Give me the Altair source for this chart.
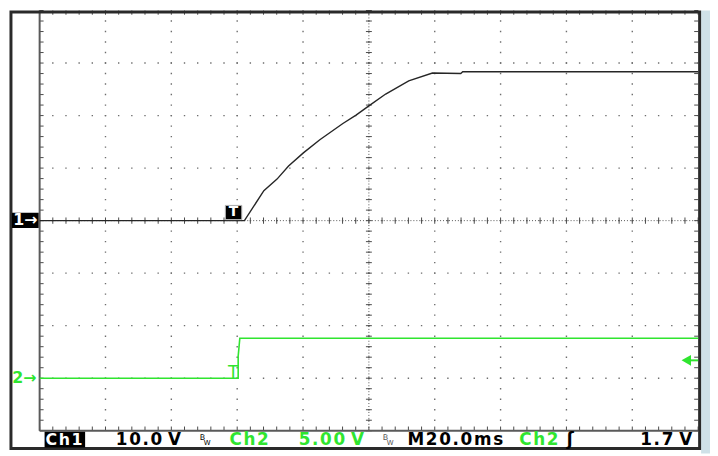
import altair as alt
import numpy as np
import pandas as pd

# Ch1 trace (10.0 V/div), time in ms relative to the trigger
ch1_t = [-60, 2.2, 8.1, 12.1, 15.6, 20.1, 25.1, 32.1, 36.1, 40.1, 45.1, 52.1, 59.3, 67.9, 68.5, 140]
ch1_v = [0, 0, 5.7, 7.9, 10.4, 12.9, 15.4, 18.5, 20.1, 21.9, 24.1, 26.6, 28.1, 28.0, 28.35, 28.35]
# Ch2 trace (5.00 V/div)
ch2_t = [-60, 0.3, 0.3, 0.8, 140]
ch2_v = [0, 0, 2.1, 3.8, 3.8]

CH1_VDIV = 10.0      # V/div
CH2_VDIV = 5.0       # V/div
CH2_POS = -3.0       # Ch2 ground position, divisions
TRIG_LEVEL = 1.7     # V, on Ch2
T_DIV = 20.0         # ms/div
T_START = -60.0      # ms at left edge
N_XDIV, N_YDIV = 10, 8

HS = "\u200a"  # hair space, used as letter spacing of the scope font
status_tokens = ["Ch1", "10.0 V", "Ch2", "5.00 V", "M20.0ms", "Ch2", "ʃ", "1.7 V"]


def spaced(s):
    out = ""
    for i, c in enumerate(s):
        out += c
        if i < len(s) - 1 and c != " " and s[i + 1] != " ":
            out += HS
    return out


# ---------------- derived tables ----------------
df1 = pd.DataFrame({"t": ch1_t, "d": np.array(ch1_v) / CH1_VDIV, "i": range(len(ch1_t))})
df2 = pd.DataFrame({"t": ch2_t, "d": np.array(ch2_v) / CH2_VDIV + CH2_POS, "i": range(len(ch2_t))})
T_END = T_START + N_XDIV * T_DIV
T_MID = (T_START + T_END) / 2
gx = pd.DataFrame({"t": [T_START + k * T_DIV for k in range(1, N_XDIV)]})
gy = pd.DataFrame({"d": [float(k) for k in range(-N_YDIV // 2 + 1, N_YDIV // 2)]})
tx = pd.DataFrame({"t": np.round(np.arange(T_START, T_END + 0.01, T_DIV / 5), 3)})
ty = pd.DataFrame({"d": np.round(np.arange(-N_YDIV / 2, N_YDIV / 2 + 0.001, 0.2), 3)})
one = pd.DataFrame({"k": [0]})

W, H = 666, 425
GREEN = "#2fe52f"
TICK = "#4a4a4a"
DOT = "#6e6e6e"
FONT = "DejaVu Sans"

xs = alt.Scale(domain=[T_START, T_END], nice=False, zero=False)
ys = alt.Scale(domain=[-N_YDIV / 2, N_YDIV / 2], nice=False, zero=False)


def XD(v):
    return alt.XDatum(v, axis=None)


def YD(v):
    return alt.YDatum(v, axis=None)


layers = []

# light blue strip at the far right (background picture)
layers.append(alt.Chart(one).mark_rect(color="#cfe1e8").encode(
    x=alt.value(669), x2=alt.value(680), y=alt.value(0), y2=alt.value(448)))

# base invisible layer fixing the scales
layers.append(alt.Chart(df1).mark_line(opacity=0).encode(
    x=alt.X("t:Q", scale=xs, axis=None),
    y=alt.Y("d:Q", scale=ys, axis=None),
    order="i:Q"))

# dotted graticule: one dot every 1/5 division
layers.append(alt.Chart(gx).mark_rule(color=DOT, strokeWidth=1.4, strokeDash=[1.4, 9.225],
                                      strokeDashOffset=0.7).encode(
    x=alt.X("t:Q", axis=None), y=YD(N_YDIV / 2), y2=alt.Y2Datum(-N_YDIV / 2)))
layers.append(alt.Chart(gy).mark_rule(color=DOT, strokeWidth=1.4, strokeDash=[1.4, 11.92],
                                      strokeDashOffset=0.7).encode(
    y=alt.Y("d:Q", axis=None), x=XD(T_START), x2=alt.X2Datum(T_END)))

# minor ticks on the edges and on the centre lines
for y0, y1 in [(N_YDIV / 2, N_YDIV / 2 - 0.08), (-N_YDIV / 2, -N_YDIV / 2 + 0.08), (-0.06, 0.06)]:
    layers.append(alt.Chart(tx).mark_rule(color=TICK, strokeWidth=1).encode(
        x=alt.X("t:Q", axis=None), y=YD(y0), y2=alt.Y2Datum(y1)))
for x0, x1 in [(T_START, T_START + 1.2), (T_END, T_END - 1.2), (T_MID - 0.9, T_MID + 0.9)]:
    layers.append(alt.Chart(ty).mark_rule(color=TICK, strokeWidth=1).encode(
        y=alt.Y("d:Q", axis=None), x=XD(x0), x2=alt.X2Datum(x1)))

# dense dotted centre lines
layers.append(alt.Chart(one).mark_rule(color="#555555", strokeWidth=1, strokeDash=[1, 2]).encode(
    x=XD(T_START), x2=alt.X2Datum(T_END), y=YD(0)))
layers.append(alt.Chart(one).mark_rule(color="#555555", strokeWidth=1, strokeDash=[1, 2]).encode(
    y=YD(-N_YDIV / 2), y2=alt.Y2Datum(N_YDIV / 2), x=XD(T_MID)))

# graticule left and bottom edges
layers.append(alt.Chart(one).mark_rule(color="#5a5a5a", strokeWidth=2).encode(
    x=XD(T_START), y=YD(-N_YDIV / 2), y2=alt.Y2Datum(N_YDIV / 2)))
layers.append(alt.Chart(one).mark_rule(color="#5a5a5a", strokeWidth=2).encode(
    y=YD(-N_YDIV / 2), x=XD(T_START), x2=alt.X2Datum(T_END)))

# outer frame
layers.append(alt.Chart(one).mark_rect(fillOpacity=0, stroke="#2a2a2a", strokeWidth=3).encode(
    x=alt.value(-29), x2=alt.value(667.5), y=alt.value(1.5), y2=alt.value(443)))

# traces
layers.append(alt.Chart(df2).mark_line(color=GREEN, strokeWidth=1.6).encode(
    x=alt.X("t:Q", axis=None), y=alt.Y("d:Q", axis=None), order="i:Q"))
layers.append(alt.Chart(df1).mark_line(color="#262626", strokeWidth=1.4).encode(
    x=alt.X("t:Q", axis=None), y=alt.Y("d:Q", axis=None), order="i:Q"))

# channel markers
layers.append(alt.Chart(one).mark_rect(color="black").encode(
    x=alt.value(-28), x2=alt.value(-1), y=YD(-0.14), y2=alt.Y2Datum(0.15)))
layers.append(alt.Chart(one).mark_text(text="1→", color="white", font=FONT, fontSize=16,
                                       fontWeight="bold", align="center", baseline="middle").encode(
    x=alt.value(-14.5), y=YD(0.01)))
layers.append(alt.Chart(one).mark_text(text="2→", color=GREEN, font=FONT, fontSize=16,
                                       fontWeight="bold", align="center", baseline="middle").encode(
    x=alt.value(-15.5), y=YD(CH2_POS)))

# trigger markers
layers.append(alt.Chart(one).mark_rect(color="black", stroke="#bbbbbb", strokeWidth=1).encode(
    x=XD(-3.6), x2=alt.X2Datum(1.4), y=YD(0.02), y2=alt.Y2Datum(0.29)))
layers.append(alt.Chart(one).mark_text(text="T", color="white", font=FONT, fontSize=14,
                                       fontWeight="bold", align="center", baseline="middle").encode(
    x=XD(-1.1), y=YD(0.155)))
layers.append(alt.Chart(one).mark_text(text="T", color=GREEN, font=FONT, fontSize=17,
                                       align="center", baseline="alphabetic").encode(
    x=XD(-1.2), y=YD(CH2_POS)))
trig_d = TRIG_LEVEL / CH2_VDIV + CH2_POS
layers.append(alt.Chart(one).mark_rule(color=GREEN, strokeWidth=2).encode(
    x=XD(137.5), x2=alt.X2Datum(T_END), y=YD(trig_d)))
layers.append(alt.Chart(one).mark_point(shape="triangle-left", filled=True, size=120,
                                        color=GREEN, opacity=1).encode(
    x=XD(136.4), y=YD(trig_d)))

# status bar
layers.append(alt.Chart(one).mark_rect(color="black").encode(
    x=alt.value(5), x2=alt.value(46), y=alt.value(426), y2=alt.value(442)))
token_style = [
    (6, "white", "left", 16), (77, "black", "left", 17), (192, GREEN, "left", 17),
    (262, GREEN, "left", 17), (372, "black", "left", 17), (485, GREEN, "left", 17),
    (533, "black", "left", 17), (660, "black", "right", 17),
]
for txt, (px, col, al, fs) in zip(status_tokens, token_style):
    layers.append(alt.Chart(one).mark_text(text=spaced(txt), color=col, font=FONT, fontSize=fs,
                                           fontWeight="bold", align=al,
                                           baseline="alphabetic").encode(
        x=alt.value(px), y=alt.value(439)))
for bx, col in [(162, "black"), (347, "#555555")]:
    layers.append(alt.Chart(one).mark_text(text="B", color=col, font=FONT, fontSize=8,
                                           align="left", baseline="alphabetic").encode(
        x=alt.value(bx), y=alt.value(434)))
    layers.append(alt.Chart(one).mark_text(text="W", color=col, font=FONT, fontSize=7,
                                           align="left", baseline="alphabetic").encode(
        x=alt.value(bx + 4), y=alt.value(439)))

chart = alt.layer(*layers).properties(
    width=W, height=H,
    padding={"left": 32, "top": 0, "right": 12, "bottom": 23},
    autosize=alt.AutoSizeParams(type="none"),
    background="white",
).configure_view(strokeWidth=0)

chart.save("out.html", embed_options={"renderer": "svg", "actions": False})
